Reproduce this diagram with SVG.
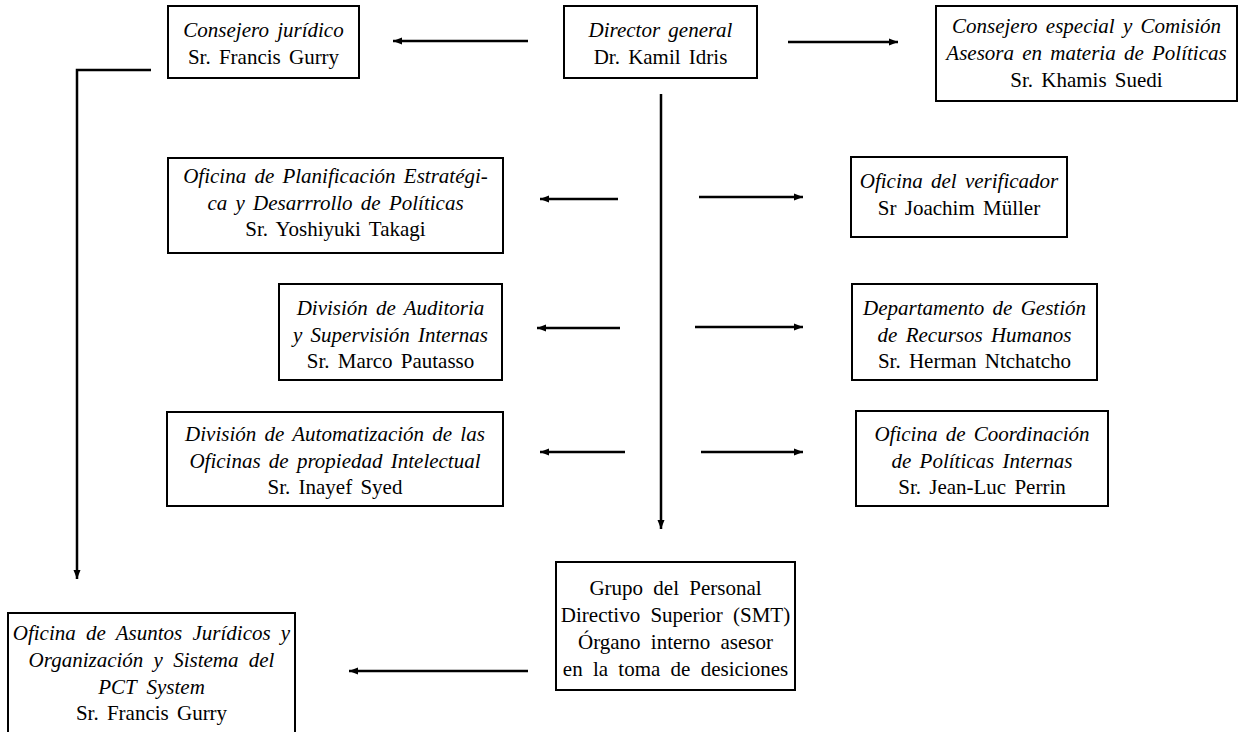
<svg xmlns="http://www.w3.org/2000/svg" width="1242" height="732" viewBox="0 0 1242 732">
<defs>
<style>
.box{fill:#fff;stroke:#000;stroke-width:2}
.t{font-family:"Liberation Serif","Times New Roman",serif;font-size:21px;fill:#000;text-anchor:middle;word-spacing:3px}
.i{font-style:italic}
.w{word-spacing:5px}
.c{fill:none;stroke:#000;stroke-width:2.5}
</style>
<marker id="ah" markerUnits="userSpaceOnUse" markerWidth="10" markerHeight="8" refX="9" refY="4" orient="auto">
<path d="M0,0.5 L9,4 L0,7.5 Z" fill="#000"/>
</marker>
</defs>
<rect width="1242" height="732" fill="#fff"/>
<g id="connectors">
<path class="c" d="M528,41 H393" marker-end="url(#ah)"/>
<path class="c" d="M788,42 H898" marker-end="url(#ah)"/>
<path class="c" d="M661,94 V529" marker-end="url(#ah)"/>
<path class="c" d="M618,199 H540" marker-end="url(#ah)"/>
<path class="c" d="M699,197 H803" marker-end="url(#ah)"/>
<path class="c" d="M620,328 H537" marker-end="url(#ah)"/>
<path class="c" d="M695,327 H803" marker-end="url(#ah)"/>
<path class="c" d="M625,452 H540" marker-end="url(#ah)"/>
<path class="c" d="M701,452 H803" marker-end="url(#ah)"/>
<path class="c" d="M151,70 H77 V579" marker-end="url(#ah)"/>
<path class="c" d="M528,671 H349" marker-end="url(#ah)"/>
</g>
<g id="n-consejero-juridico">
<rect class="box" x="168" y="6" width="191" height="72"/>
<text class="t i" x="263.5" y="37">Consejero jurídico</text>
<text class="t" x="263.5" y="64">Sr. Francis Gurry</text>
</g>
<g id="n-director">
<rect class="box" x="564" y="6" width="193" height="72"/>
<text class="t i" x="660.5" y="37">Director general</text>
<text class="t" x="660.5" y="64">Dr. Kamil Idris</text>
</g>
<g id="n-consejero-especial">
<rect class="box" x="936" y="6" width="301" height="95"/>
<text class="t i" x="1086.5" y="33">Consejero especial y Comisión</text>
<text class="t i" x="1086.5" y="60">Asesora en materia de Políticas</text>
<text class="t" x="1086.5" y="87">Sr. Khamis Suedi</text>
</g>
<g id="n-planificacion">
<rect class="box" x="168" y="158" width="335" height="95"/>
<text class="t i" x="335.5" y="183">Oficina de Planificación Estratégi-</text>
<text class="t i" x="335.5" y="210">ca y Desarrrollo de Políticas</text>
<text class="t" x="335.5" y="236">Sr. Yoshiyuki Takagi</text>
</g>
<g id="n-verificador">
<rect class="box" x="851" y="157" width="216" height="80"/>
<text class="t i" x="959" y="188">Oficina del verificador</text>
<text class="t" x="959" y="215">Sr Joachim Müller</text>
</g>
<g id="n-rrhh">
<rect class="box" x="852" y="284" width="245" height="96"/>
<text class="t i" x="974.5" y="315">Departamento de Gestión</text>
<text class="t i" x="974.5" y="342">de Recursos Humanos</text>
<text class="t" x="974.5" y="368">Sr. Herman Ntchatcho</text>
</g>
<g id="n-auditoria">
<rect class="box" x="279" y="284" width="223" height="96"/>
<text class="t i" x="390.5" y="315">División de Auditoria</text>
<text class="t i" x="390.5" y="342">y Supervisión Internas</text>
<text class="t" x="390.5" y="368">Sr. Marco Pautasso</text>
</g>
<g id="n-automatizacion">
<rect class="box" x="167" y="412" width="336" height="94"/>
<text class="t i" x="335" y="441">División de Automatización de las</text>
<text class="t i" x="335" y="468">Oficinas de propiedad Intelectual</text>
<text class="t" x="335" y="494">Sr. Inayef Syed</text>
</g>
<g id="n-coordinacion">
<rect class="box" x="856" y="411" width="252" height="95"/>
<text class="t i" x="982" y="441">Oficina de Coordinación</text>
<text class="t i" x="982" y="468">de Políticas Internas</text>
<text class="t" x="982" y="494">Sr. Jean-Luc Perrin</text>
</g>
<g id="n-asuntos-juridicos">
<rect class="box" x="8" y="613" width="287" height="130"/>
<text class="t i w" x="151.5" y="640">Oficina de Asuntos Jurídicos y</text>
<text class="t i w" x="151.5" y="667">Organización y Sistema del</text>
<text class="t i w" x="151.5" y="694">PCT System</text>
<text class="t" x="151.5" y="720">Sr. Francis Gurry</text>
</g>
<g id="n-smt">
<rect class="box" x="556" y="562" width="239" height="128"/>
<text class="t w" x="675.5" y="595">Grupo del Personal</text>
<text class="t w" x="675.5" y="622">Directivo Superior (SMT)</text>
<text class="t w" x="675.5" y="649">Órgano interno asesor</text>
<text class="t w" x="675.5" y="676">en la toma de desiciones</text>
</g>
</svg>
